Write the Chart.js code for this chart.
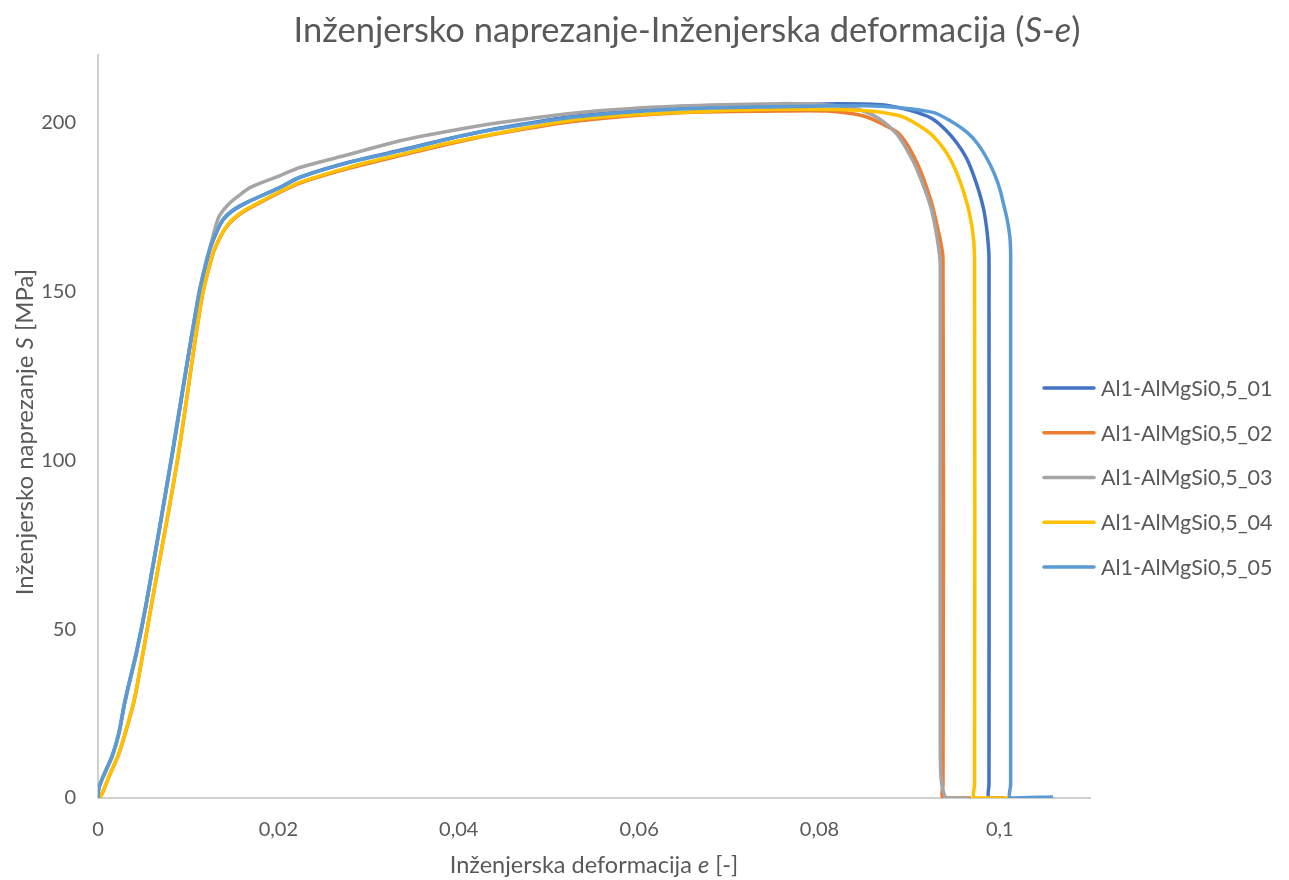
<!DOCTYPE html>
<html lang="hr">
<head>
<meta charset="UTF-8">
<title>Inženjersko naprezanje-Inženjerska deformacija (S-e)</title>
<script src="https://cdn.jsdelivr.net/npm/chart.js@4.4.0/dist/chart.umd.min.js"></script>
<style>
  body { margin: 0; background: #fff; }
  .wrap { position: relative; width: 1289px; height: 880px; }
</style>
</head>
<body>
<div class="wrap"><canvas id="seChart"></canvas></div>
<script>
// series names / colours (Excel default palette)
const seriesNames = ['Al1-AlMgSi0,5_01', 'Al1-AlMgSi0,5_02', 'Al1-AlMgSi0,5_03', 'Al1-AlMgSi0,5_04', 'Al1-AlMgSi0,5_05'];
const seriesColors = ['#4472C4', '#ED7D31', '#A5A5A5', '#FFC000', '#5B9BD5'];

// engineering strain e [-] and stress S [MPa]
const e01 = [0, 0.0001, 0.0008, 0.0016, 0.0023, 0.003, 0.0043, 0.0054, 0.0081, 0.0111, 0.0124, 0.0132, 0.0139, 0.015, 0.0165, 0.0202, 0.0224, 0.0279, 0.0335, 0.039, 0.0446, 0.0534, 0.0645, 0.0756, 0.082, 0.0868, 0.0889, 0.0908, 0.0926, 0.094, 0.0952, 0.0963, 0.0971, 0.0977, 0.0982, 0.0985, 0.0987, 0.0988, 0.0988, 0.0988, 0.1005];
const s01 = [0, 3, 7.6, 12.5, 18.9, 28.5, 43.3, 58, 99.5, 147.5, 162.3, 167.8, 171.3, 174, 176.3, 180.8, 183.8, 188.3, 191.8, 195.3, 198.4, 202, 204.3, 205.2, 205.6, 205.3, 204.4, 203, 201, 197.8, 194.1, 189.5, 184.3, 179.5, 174.4, 169.5, 164.6, 160, 4, 0, 0];

const e02 = [0, 0.0004, 0.0012, 0.0023, 0.0032, 0.004, 0.0047, 0.006, 0.0088, 0.0115, 0.0128, 0.0136, 0.0143, 0.0153, 0.0165, 0.0202, 0.0224, 0.0279, 0.0335, 0.039, 0.0446, 0.0534, 0.0645, 0.0756, 0.0808, 0.0848, 0.0868, 0.0889, 0.0908, 0.0923, 0.0932, 0.0937, 0.0937, 0.0937, 0.0968];
const s02 = [0, 1, 6.2, 13, 20.8, 28.7, 38.5, 58.2, 99.8, 147.7, 161.5, 166.3, 169.3, 172, 174.2, 179.4, 182.1, 186.5, 190.2, 193.7, 196.8, 200.5, 202.9, 203.4, 203.4, 202, 199.8, 196.5, 188.2, 177.4, 167.6, 159.7, 4, 0, 0];

const e03 = [0, 0.0001, 0.0008, 0.0016, 0.0023, 0.003, 0.0043, 0.0054, 0.0081, 0.0111, 0.0119, 0.0126, 0.0131, 0.0135, 0.0144, 0.0154, 0.0169, 0.0202, 0.0224, 0.0279, 0.0335, 0.039, 0.0446, 0.0534, 0.0645, 0.0756, 0.0793, 0.0825, 0.0848, 0.0867, 0.0886, 0.0899, 0.0908, 0.0923, 0.093, 0.0934, 0.0934, 0.094, 0.0965];
const s03 = [0, 3, 7.8, 12.7, 19.1, 28.9, 43.7, 58.4, 100, 148.5, 158, 164.8, 169.8, 172.6, 175.6, 177.9, 180.8, 184.3, 186.7, 190.6, 194.6, 197.5, 200, 203, 204.9, 205.6, 205.4, 204.8, 203.5, 201, 196.5, 191, 186.2, 175.4, 166.6, 157.7, 14, 0, 0];

const e04 = [0, 0.0004, 0.0012, 0.0023, 0.0032, 0.004, 0.0047, 0.006, 0.0088, 0.0115, 0.0128, 0.0136, 0.0143, 0.0153, 0.0165, 0.0202, 0.0224, 0.0279, 0.0335, 0.039, 0.0446, 0.0534, 0.0645, 0.0756, 0.0848, 0.0889, 0.0908, 0.0926, 0.0945, 0.096, 0.0969, 0.0972, 0.0972, 0.0972, 0.1011];
const s04 = [0, 1, 6.3, 13.2, 21, 28.9, 38.7, 58.4, 100, 147.9, 161.7, 166.5, 169.5, 172.2, 174.4, 179.6, 182.3, 186.8, 190.5, 194, 197, 201, 203, 203.9, 203.6, 202, 199.5, 196, 189.2, 179.4, 169.5, 159.7, 4, 0, 0];

const e05 = [0, 0.0001, 0.0008, 0.0016, 0.0023, 0.003, 0.0043, 0.0054, 0.0081, 0.0111, 0.0124, 0.0132, 0.0139, 0.015, 0.0165, 0.0202, 0.0224, 0.0279, 0.0335, 0.039, 0.0446, 0.0534, 0.0645, 0.0756, 0.085, 0.0889, 0.0926, 0.0945, 0.0964, 0.0976, 0.0986, 0.0994, 0.1, 0.1004, 0.1008, 0.1011, 0.1012, 0.1012, 0.1012, 0.1012, 0.1059];
const s05 = [0, 3, 7.8, 12.7, 19.1, 28.9, 43.7, 58.4, 100, 147.9, 162.6, 168, 171.5, 174.2, 176.4, 180.8, 183.8, 188.2, 191.6, 195.3, 198.3, 201.8, 204, 204.7, 205, 204.4, 203, 200.5, 197, 193.5, 189.2, 184.8, 180.3, 176, 171.5, 166.5, 161.7, 156, 4, 0, 0.3];

const strains = [e01, e02, e03, e04, e05];
const stresses = [s01, s02, s03, s04, s05];

// axis ticks
const xTicks = [0, 0.02, 0.04, 0.06, 0.08, 0.1];
const yTicks = [0, 50, 100, 150, 200];

const FONT = 'Lato, "Open Sans", sans-serif';
const TEXT = '#595959';
const titleParts = [['Inženjersko naprezanje-Inženjerska deformacija (', false], ['S', true], ['-', false], ['e', true], [')', false]];
const xTitleParts = [['Inženjerska deformacija ', false], ['e', true], [' [-]', false]];
const yTitleParts = [['Inženjersko naprezanje ', false], ['S', true], [' [MPa]', false]];

function partFont(p, size) {
    return (p[1] ? 'italic ' : '') + size + 'px ' + FONT;
}

// draws mixed upright/italic text centred on x
function drawParts(ctx, parts, x, y, size) {
    let total = 0;
    parts.forEach(p => { ctx.font = partFont(p, size); total += ctx.measureText(p[0]).width; });
    let cx = x - total / 2;
    ctx.textAlign = 'left';
    parts.forEach(p => {
        ctx.font = partFont(p, size);
        ctx.fillText(p[0], cx, y);
        cx += ctx.measureText(p[0]).width;
    });
}

const textPlugin = {
    id: 'seText',
    afterDraw(chart) {
        const ctx = chart.ctx;
        const area = chart.chartArea;
        ctx.save();
        ctx.fillStyle = TEXT;
        ctx.textBaseline = 'alphabetic';
        drawParts(ctx, titleParts, 687, 42, 34.5);
        drawParts(ctx, xTitleParts, (area.left + area.right) / 2, 873, 23.5);
        ctx.save();
        ctx.translate(33, 432);
        ctx.rotate(-Math.PI / 2);
        drawParts(ctx, yTitleParts, 0, 0, 24);
        ctx.restore();

        // legend, right side, overlapping the plot's right margin like Excel does
        ctx.textBaseline = 'middle';
        ctx.textAlign = 'left';
        ctx.font = '21.5px ' + FONT;
        chart.data.datasets.forEach((ds, i) => {
            const y = 388 + i * 44.75;
            ctx.strokeStyle = ds.borderColor;
            ctx.lineWidth = 3.5;
            ctx.lineCap = 'round';
            ctx.beginPath();
            ctx.moveTo(1044, y);
            ctx.lineTo(1094, y);
            ctx.stroke();
            ctx.fillStyle = TEXT;
            ctx.fillText(ds.label, 1101, y + 1);
        });
        ctx.restore();
    }
};

const datasets = seriesNames.map((name, i) => ({
    label: name,
    data: strains[i].map((e, k) => ({ x: e, y: stresses[i][k] })),
    borderColor: seriesColors[i],
    backgroundColor: seriesColors[i],
    borderWidth: 3.5,
    pointRadius: 0,
    showLine: true,
    tension: 0.3,
    order: seriesNames.length - i
}));

new Chart(document.getElementById('seChart'), {
    type: 'scatter',
    data: { datasets: datasets },
    options: {
        responsive: true,
        maintainAspectRatio: false,
        animation: false,
        layout: { padding: { top: 55, right: 199, left: 0, bottom: 0 } },
        plugins: {
            legend: { display: false },
            title: { display: false },
            tooltip: { enabled: false }
        },
        scales: {
            x: {
                type: 'linear',
                min: 0,
                max: 0.11,
                afterBuildTicks: scale => { scale.ticks = xTicks.map(v => ({ value: v })); },
                afterFit: scale => { scale.height = 82; },
                grid: { display: false, drawTicks: false },
                border: { display: true, color: '#D0D0D0', width: 2 },
                ticks: {
                    color: TEXT,
                    padding: 20,
                    maxRotation: 0,
                    font: { family: FONT, size: 20 },
                    callback: v => v === 0 ? '0' : String(+v.toFixed(2)).replace('.', ',')
                }
            },
            y: {
                min: 0,
                max: 220,
                afterBuildTicks: scale => { scale.ticks = yTicks.map(v => ({ value: v })); },
                afterFit: scale => { scale.width = 98; },
                grid: { display: false, drawTicks: false },
                border: { display: true, color: '#D0D0D0', width: 2 },
                ticks: {
                    color: TEXT,
                    padding: 22,
                    font: { family: FONT, size: 20 }
                }
            }
        }
    },
    plugins: [textPlugin]
});
</script>
</body>
</html>
